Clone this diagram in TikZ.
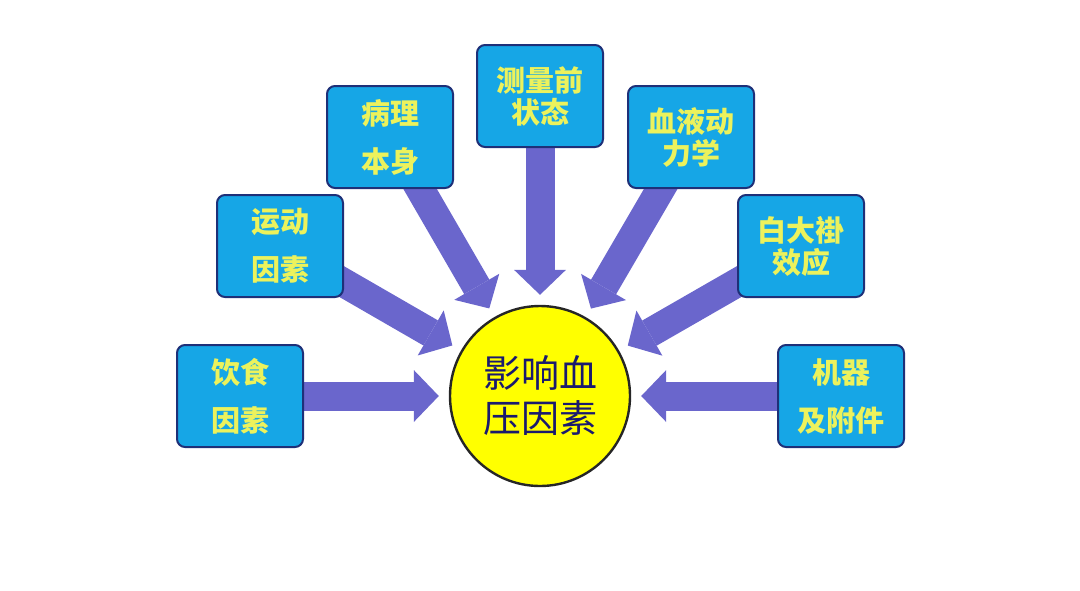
\documentclass[tikz,border=0pt]{standalone}
\usepackage{fontspec}
\newfontfamily\cjk{Noto Sans CJK SC}
\usepackage{xcolor}
\usetikzlibrary{arrows.meta, positioning}
\pgfdeclarelayer{edgelayer}
\pgfsetlayers{edgelayer,main}

\definecolor{boxblue}{RGB}{22,166,230}
\definecolor{boxline}{RGB}{30,48,120}
\definecolor{textyellow}{RGB}{236,242,92}
\definecolor{arrowblue}{RGB}{106,102,204}
\definecolor{coreyellow}{RGB}{255,255,0}
\definecolor{coretext}{RGB}{26,26,110}

\tikzset{
  factor/.style={draw=boxline, line width=1pt, fill=boxblue, rounded corners=4pt,
    minimum width=63pt, minimum height=51pt, inner sep=0pt, align=center,
    text=textyellow, font=\cjk\bfseries\fontsize{14.5}{24}\selectfont},
  tight/.style={font=\cjk\bfseries\fontsize{14.5}{16}\selectfont},
  core/.style={circle, draw=black!85, line width=1.2pt, fill=coreyellow,
    minimum size=90pt, inner sep=0pt, align=center, text=coretext,
    font=\cjk\fontsize{19}{22.5}\selectfont},
  push/.style={draw=arrowblue, line width=14.5pt, shorten >=5pt,
    -{Triangle[length=12.5pt,width=26pt,line width=0pt]}}
}

\begin{document}
\begin{tikzpicture}[x=0.5pt, y=-0.5pt]
  \useasboundingbox (0,0) rectangle (1080,590);

  % centre
  \node[core] (core) at (540,396) {影响血\\压因素};

  % factors
  \node[factor] (diet)    at (240,396) {饮食\\因素};
  \node[factor] (sport)   at (280,246) {运动\\因素};
  \node[factor] (illness) at (390,137) {病理\\本身};
  \node[factor, tight] (before) at (540,96)  {测量前\\状态};
  \node[factor, tight] (flow)   at (691,137) {血液动\\力学};
  \node[factor, tight] (coat)   at (801,246) {白大褂\\效应};
  \node[factor] (device)  at (841,396) {机器\\及附件};

  % arrows
  \begin{pgfonlayer}{edgelayer}
    \foreach \src in {diet,sport,illness,before,flow,coat,device}
      \draw[push] (\src.center) -- (core);
  \end{pgfonlayer}
\end{tikzpicture}
\end{document}
